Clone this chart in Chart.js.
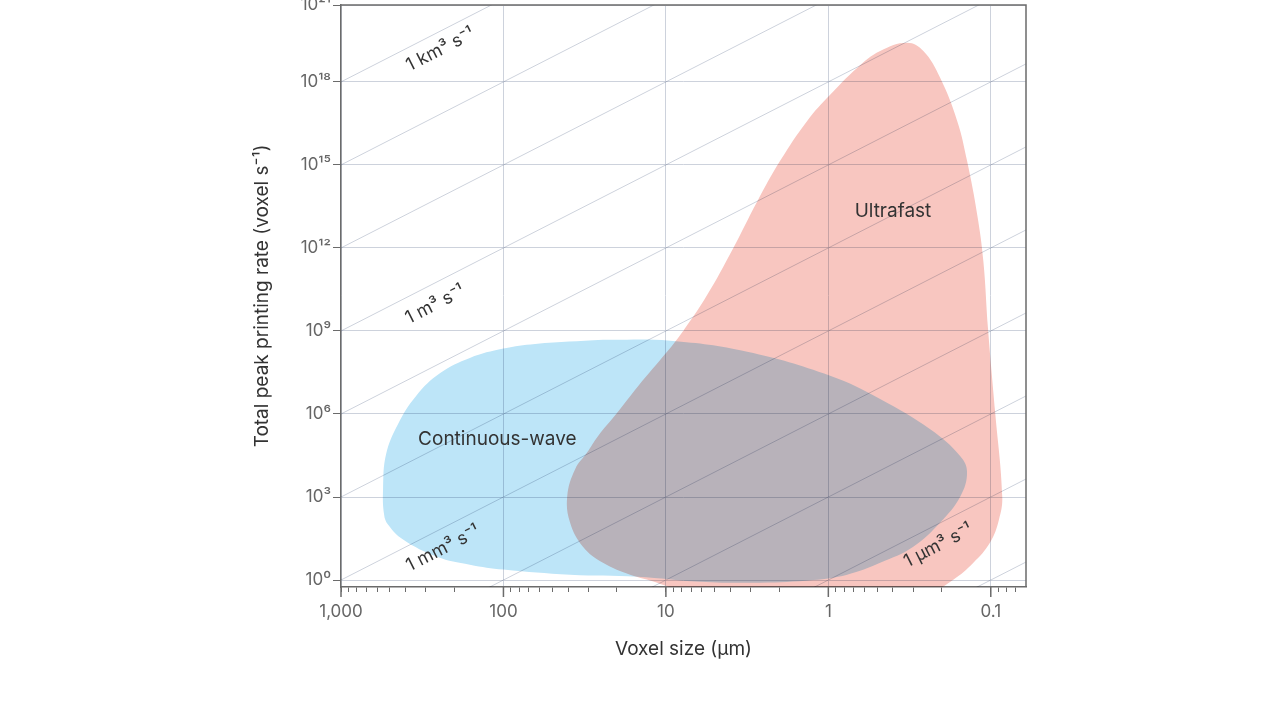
<!DOCTYPE html>
<html>
<head>
<meta charset="utf-8">
<title>Voxel size vs printing rate</title>
<script src="https://cdn.jsdelivr.net/npm/chart.js@4.4.1/dist/chart.umd.min.js"></script>
<style>
  html, body { margin: 0; padding: 0; background: #fff; }
  #chart { display: block; }
</style>
</head>
<body>
<canvas id="chart" width="1280" height="720"></canvas>
<script>
// axis ranges (x is reversed: big voxels on the left)
const X_MIN = 0.0607, X_MAX = 1000;
const Y_MIN = 0.56, Y_MAX = 6.0e20;

const xDecades = [1000, 100, 10, 1, 0.1];
const xTickLabels = ['1,000', '100', '10', '1', '0.1'];
const yTickValues = [1, 1e3, 1e6, 1e9, 1e12, 1e15, 1e18, Y_MAX];
const yTickLabels = ['10⁰', '10³', '10⁶', '10⁹', '10¹²', '10¹⁵', '10¹⁸', '10²¹'];

// continuous-wave region outline (voxel size in µm, rate in voxel/s)
const cwSize = [24.4, 9.4, 3.16, 0.975, 0.48, 0.236, 0.154, 0.14, 0.154, 0.205, 0.30, 0.48, 0.766,
  1.24, 2.63, 6.15, 15, 38.9, 100, 161, 257, 415, 514, 543, 551, 528, 446, 345, 245, 161, 100, 63.8, 24.4];
const cwRate = [4.8e8, 4.4e8, 1.76e8, 2.4e7, 3.5e6, 2.8e5, 3.0e4, 7.8e3, 1.05e3, 120, 16, 4.2, 1.56,
  1.0, 0.80, 0.87, 1.32, 1.56, 2.4, 3.6, 7.0, 29, 101, 234, 1.9e3, 3.5e4, 4.3e5, 4.5e6, 3.0e7, 1.06e8, 2.3e8, 3.4e8, 4.8e8];

// ultrafast region outline
const ufSize = [6.15, 11.3, 16.6, 24.4, 32.4, 38.9, 40.5, 36.2, 30.5, 26.2, 20.0, 14.8, 9.84, 7.83, 5.6,
  3.86, 2.74, 1.98, 1.35, 0.975, 0.665, 0.48, 0.327, 0.26, 0.205, 0.161, 0.14, 0.121, 0.111, 0.104,
  0.094, 0.085, 0.089, 0.101, 0.128, 0.171, 0.236, 0.73, 6.15];
const ufRate = [0.2, 0.8, 1.56, 4.2, 16, 120, 1.05e3, 1.0e4, 4.1e4, 1.58e5, 1.08e6, 1.03e7, 1.76e8, 1e9, 1.9e10,
  9.6e11, 4.8e13, 1.4e15, 3.9e16, 3.4e17, 3.2e18, 1.3e19, 2.6e19, 1.3e19, 1.4e18, 3.9e16, 1.4e15, 1.5e13, 3.2e11, 1.2e9,
  1.17e6, 1.05e3, 154, 22.5, 4.2, 1.0, 0.38, 0.2, 0.2];

// constant volume-rate lines, in µm³ per second
const volumeRates = [1e-3, 1, 1e3, 1e6, 1e9, 1e12, 1e15, 1e18, 1e21, 1e24, 1e27];

// labels for some of those lines
const isoLabelText = ['1 km³ s⁻¹', '1 m³ s⁻¹', '1 mm³ s⁻¹', '1 µm³ s⁻¹'];
const isoLabelVolume = [1e27, 1e18, 1e9, 1];
const isoLabelSize = [245, 264, 236, 0.211];
const isoLabelRate = [1.45e19, 8.9e9, 13.6, 17.5];

const regionText = ['Continuous-wave', 'Ultrafast'];
const regionSize = [109, 0.40];
const regionRate = [1.23e5, 2.1e13];

const GRID = '#cdd2dc';
const AXIS = '#6b6b6b';
const FONT = 'Inter, "Open Sans", sans-serif';

function toPoints(xs, ys) {
  return xs.map((x, i) => ({ x: x, y: ys[i] }));
}
function isDecade(v) {
  return xDecades.some(d => Math.abs(v / d - 1) < 1e-6);
}

const datasets = [
  {
    label: 'Continuous-wave',
    data: toPoints(cwSize, cwRate),
    showLine: true, fill: 'shape', tension: 0.4,
    backgroundColor: '#bde5f8', borderWidth: 0, pointRadius: 0, order: 1
  },
  {
    label: 'Ultrafast',
    data: toPoints(ufSize, ufRate),
    showLine: true, fill: 'shape', tension: 0.4,
    backgroundColor: '#f8c6c0', borderWidth: 0, pointRadius: 0, order: 1
  }
];
volumeRates.forEach(v => {
  datasets.push({
    data: [{ x: X_MAX, y: v / Math.pow(X_MAX, 3) }, { x: X_MIN, y: v / Math.pow(X_MIN, 3) }],
    showLine: true, fill: false, borderColor: GRID, borderWidth: 1, pointRadius: 0, order: 2
  });
});

// multiply the fills over the grid so the lines show through, like the original
const blendPlugin = {
  id: 'blend',
  beforeDatasetsDraw(chart) {
    chart.ctx.save();
    chart.ctx.globalCompositeOperation = 'multiply';
  },
  afterDatasetsDraw(chart) {
    chart.ctx.restore();
    const ctx = chart.ctx, xs = chart.scales.x, ys = chart.scales.y;
    ctx.save();
    ctx.fillStyle = '#333';
    ctx.textAlign = 'center';
    ctx.textBaseline = 'middle';
    ctx.font = '18px ' + FONT;
    isoLabelText.forEach((t, i) => {
      const v = isoLabelVolume[i];
      const x1 = xs.getPixelForValue(1000), y1 = ys.getPixelForValue(v / 1e9);
      const x2 = xs.getPixelForValue(100), y2 = ys.getPixelForValue(v / 1e6);
      ctx.save();
      ctx.translate(xs.getPixelForValue(isoLabelSize[i]), ys.getPixelForValue(isoLabelRate[i]));
      ctx.rotate(Math.atan2(y2 - y1, x2 - x1));
      ctx.fillText(t, 0, 0);
      ctx.restore();
    });
    ctx.font = '19px ' + FONT;
    regionText.forEach((t, i) => {
      ctx.fillText(t, xs.getPixelForValue(regionSize[i]), ys.getPixelForValue(regionRate[i]));
    });
    ctx.restore();
  },
  afterDraw(chart) {
    const ctx = chart.ctx, a = chart.chartArea, xs = chart.scales.x;
    ctx.save();
    ctx.strokeStyle = AXIS;
    ctx.lineWidth = 1.5;
    ctx.beginPath();
    ctx.moveTo(a.left, a.top);
    ctx.lineTo(a.right, a.top);
    ctx.lineTo(a.right, a.bottom);
    // longer ticks at the decades
    xDecades.forEach(d => {
      const px = xs.getPixelForValue(d);
      ctx.moveTo(px, a.bottom);
      ctx.lineTo(px, a.bottom + 10);
    });
    ctx.stroke();
    ctx.restore();
  }
};

new Chart(document.getElementById('chart'), {
  type: 'scatter',
  data: { datasets: datasets },
  options: {
    responsive: false,
    animation: false,
    devicePixelRatio: 1,
    layout: { padding: { left: 240, right: 254, top: 5, bottom: 53 } },
    plugins: { legend: { display: false }, tooltip: { enabled: false } },
    scales: {
      x: {
        type: 'logarithmic',
        reverse: true,
        min: X_MIN,
        max: X_MAX,
        afterBuildTicks(scale) {
          const ticks = [];
          [0.01, 0.1, 1, 10, 100].forEach(d => {
            for (let m = 1; m <= 10; m++) {
              const v = m * d;
              if (v >= X_MIN && v <= X_MAX && (m < 10 || d === 100)) ticks.push({ value: v });
            }
          });
          scale.ticks = ticks;
        },
        afterFit(scale) {
          scale.height = 80;
          scale.paddingLeft = 0;
          scale.paddingRight = 0;
        },
        ticks: {
          autoSkip: false,
          maxRotation: 0,
          padding: 10,
          color: '#666',
          font: { family: FONT, size: 17 },
          callback(value) {
            const i = xDecades.findIndex(d => Math.abs(value / d - 1) < 1e-6);
            return i >= 0 ? xTickLabels[i] : '';
          }
        },
        grid: {
          color: ctx => (ctx.tick && isDecade(ctx.tick.value)) ? GRID : 'rgba(0,0,0,0)',
          tickColor: AXIS,
          tickLength: 5,
          lineWidth: 1
        },
        border: { color: AXIS, width: 1.5 },
        title: {
          display: true,
          text: 'Voxel size (µm)',
          color: '#333',
          font: { family: FONT, size: 19 },
          padding: { top: 0, bottom: 6 }
        }
      },
      y: {
        type: 'logarithmic',
        min: Y_MIN,
        max: Y_MAX,
        afterBuildTicks(scale) {
          scale.ticks = yTickValues.map(v => ({ value: v }));
        },
        afterFit(scale) {
          scale.width = 101;
          scale.paddingTop = 0;
          scale.paddingBottom = 0;
        },
        ticks: {
          autoSkip: false,
          padding: 2,
          color: '#666',
          font: { family: FONT, size: 17 },
          callback(value, index) { return yTickLabels[index]; }
        },
        grid: {
          color: GRID,
          tickColor: AXIS,
          tickLength: 8,
          lineWidth: 1
        },
        border: { color: AXIS, width: 1.5 },
        title: {
          display: true,
          text: 'Total peak printing rate (voxel s⁻¹)',
          color: '#333',
          font: { family: FONT, size: 19 },
          padding: { top: 11, bottom: 0 }
        }
      }
    }
  },
  plugins: [blendPlugin]
});
</script>
</body>
</html>
